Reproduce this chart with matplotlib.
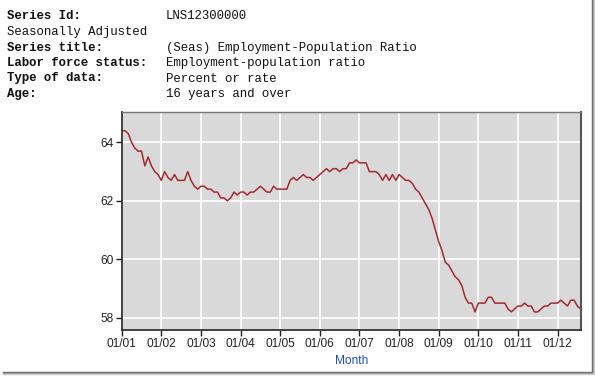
import matplotlib
matplotlib.use("Agg")
import matplotlib.pyplot as plt
from matplotlib.lines import Line2D

# ---- data ----
header_labels = ["Series Id:", "Seasonally Adjusted", "Series title:",
                 "Labor force status:", "Type of data:", "Age:"]
header_values = ["LNS12300000", "", "(Seas) Employment-Population Ratio",
                 "Employment-population ratio", "Percent or rate", "16 years and over"]
header_bold = [True, False, True, True, True, True]

y2001 = [64.4, 64.4, 64.3, 64.0, 63.8, 63.7, 63.7, 63.2, 63.5, 63.2, 63.0, 62.9]
y2002 = [62.7, 63.0, 62.8, 62.7, 62.9, 62.7, 62.7, 62.7, 63.0, 62.7, 62.5, 62.4]
y2003 = [62.5, 62.5, 62.4, 62.4, 62.3, 62.3, 62.1, 62.1, 62.0, 62.1, 62.3, 62.2]
y2004 = [62.3, 62.3, 62.2, 62.3, 62.3, 62.4, 62.5, 62.4, 62.3, 62.3, 62.5, 62.4]
y2005 = [62.4, 62.4, 62.4, 62.7, 62.8, 62.7, 62.8, 62.9, 62.8, 62.8, 62.7, 62.8]
y2006 = [62.9, 63.0, 63.1, 63.0, 63.1, 63.1, 63.0, 63.1, 63.1, 63.3, 63.3, 63.4]
y2007 = [63.3, 63.3, 63.3, 63.0, 63.0, 63.0, 62.9, 62.7, 62.9, 62.7, 62.9, 62.7]
y2008 = [62.9, 62.8, 62.7, 62.7, 62.6, 62.4, 62.3, 62.1, 61.9, 61.7, 61.4, 61.0]
y2009 = [60.6, 60.3, 59.9, 59.8, 59.6, 59.4, 59.3, 59.1, 58.7, 58.5, 58.5, 58.2]
y2010 = [58.5, 58.5, 58.5, 58.7, 58.7, 58.5, 58.5, 58.5, 58.5, 58.3, 58.2, 58.3]
y2011 = [58.4, 58.4, 58.5, 58.4, 58.4, 58.2, 58.2, 58.3, 58.4, 58.4, 58.5, 58.5]
y2012 = [58.5, 58.6, 58.5, 58.4, 58.6, 58.6, 58.4, 58.3]
values = y2001 + y2002 + y2003 + y2004 + y2005 + y2006 + y2007 + y2008 + y2009 + y2010 + y2011 + y2012
months = list(range(len(values)))

tick_labels = ["01/01", "01/02", "01/03", "01/04", "01/05", "01/06",
               "01/07", "01/08", "01/09", "01/10", "01/11", "01/12"]
y_ticks = [58, 60, 62, 64]

# ---- figure ----
W, H, DPI = 595, 378, 100
fig = plt.figure(figsize=(W / DPI, H / DPI), dpi=DPI)
fig.patch.set_facecolor("white")

# header text
line_y = [15.7, 31.8, 47.6, 62.8, 78.5, 93.5]
for lab, val, bold, yy in zip(header_labels, header_values, header_bold, line_y):
    fig.text(7 / W, 1 - yy / H, lab, family="Liberation Mono", fontsize=8.9,
             fontweight="bold" if bold else "normal", va="center", ha="left", color="#111111")
    if val:
        fig.text(165.5 / W, 1 - yy / H, val, family="Liberation Mono", fontsize=8.9,
                 va="center", ha="left", color="#111111")

# axes
left, right, top, bottom = 121.7, 580.7, 112.3, 330.0
ax = fig.add_axes([left / W, 1 - bottom / H, (right - left) / W, (bottom - top) / H])
ax.set_facecolor("#d9d9d9")
ax.plot(months, values, color="#a52a2f", linewidth=1.1)
ax.set_xlim(0, 139)
ax.set_ylim(57.58, 65.03)
ax.set_xticks(list(range(0, 12 * len(tick_labels), 12)))
ax.set_xticklabels(tick_labels)
ax.set_yticks(y_ticks)
ax.set_yticklabels([str(v) for v in y_ticks])
ax.grid(True, color="white", linewidth=1.2)
ax.set_axisbelow(True)
ax.tick_params(axis="both", labelsize=8.6, colors="#222222", length=4, width=1.0,
               labelfontfamily="Liberation Sans", pad=2)
for s in ax.spines.values():
    s.set_color("#333333")
    s.set_linewidth(1.0)
ax.spines["left"].set_linewidth(1.3)
ax.spines["bottom"].set_linewidth(1.3)
ax.spines["right"].set_linewidth(1.5)
ax.spines["right"].set_color("#555555")
ax.spines["top"].set_color("#777777")
ax.set_xlabel("Month", family="Liberation Sans", fontsize=8.6, color="#1f4fb5", labelpad=3)

# image frame (right and bottom edges with shadow)
for off, c in [(0, "#666666"), (1, "#999999"), (2, "#cccccc")]:
    fig.add_artist(Line2D([(591.5 + off) / W, (591.5 + off) / W], [1 - 0 / H, 1 - (371.5 + off) / H],
                          transform=fig.transFigure, color=c, linewidth=1.0))
    fig.add_artist(Line2D([3 / W, (591.5 + off) / W], [1 - (371.5 + off) / H, 1 - (371.5 + off) / H],
                          transform=fig.transFigure, color=c, linewidth=1.0))

fig.savefig("out.png", dpi=DPI)
